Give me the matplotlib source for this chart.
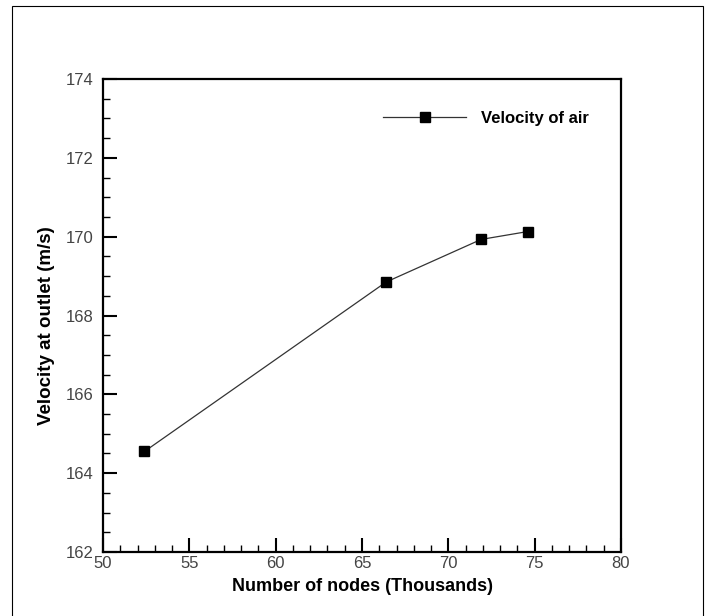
import matplotlib
matplotlib.use('Agg')
import matplotlib.pyplot as plt
from matplotlib.patches import Rectangle
from matplotlib.ticker import MultipleLocator

plt.rcParams['font.family'] = ['Liberation Sans', 'DejaVu Sans']

# grid-independence data
nodes = [52.4, 66.4, 71.9, 74.6]          # thousands of nodes
velocity = [164.55, 168.85, 169.93, 170.13]  # m/s
series_name = 'Velocity of air'

fig = plt.figure(figsize=(7.08, 6.16), dpi=100)
fig.patch.set_facecolor('white')

# outer frame around the whole picture
fig.patches.append(Rectangle((12 / 708, -0.05), (703 - 12) / 708, 1 - 6 / 616 + 0.05,
                             transform=fig.transFigure, fill=False, lw=0.8, ec='black'))

ax = fig.add_axes([103 / 708, 1 - 552 / 616, (621 - 103) / 708, (552 - 79) / 616])

ax.plot(nodes, velocity, color='#333333', lw=0.9, marker='s', markersize=6.5,
        markerfacecolor='black', markeredgecolor='black', label=series_name)

ax.set_xlim(50, 80)
ax.set_ylim(162, 174)
ax.xaxis.set_major_locator(MultipleLocator(5))
ax.xaxis.set_minor_locator(MultipleLocator(1))
ax.yaxis.set_major_locator(MultipleLocator(2))
ax.yaxis.set_minor_locator(MultipleLocator(0.5))

for s in ax.spines.values():
    s.set_linewidth(1.6)
ax.tick_params(which='both', direction='in', top=False, right=False,
               labelsize=12, labelcolor='#444444')
ax.tick_params(which='major', length=10, width=1.5, pad=3)
ax.tick_params(which='minor', length=5, width=1.0)
ax.tick_params(axis='y', pad=7)

ax.set_xlabel('Number of nodes (Thousands)', fontsize=13, fontweight='bold', labelpad=5)
ax.set_ylabel('Velocity at outlet (m/s)', fontsize=13.5, fontweight='bold')
ax.yaxis.set_label_coords(-0.093, 0.478)

ax.legend(loc='center left', bbox_to_anchor=(383 / 708, 1 - 118 / 616),
          bbox_transform=fig.transFigure, frameon=False, borderpad=0, borderaxespad=0,
          handlelength=5.0, handletextpad=0.9, prop={'size': 12, 'weight': 'bold'})

fig.savefig('out.png', dpi=100, facecolor='white')
